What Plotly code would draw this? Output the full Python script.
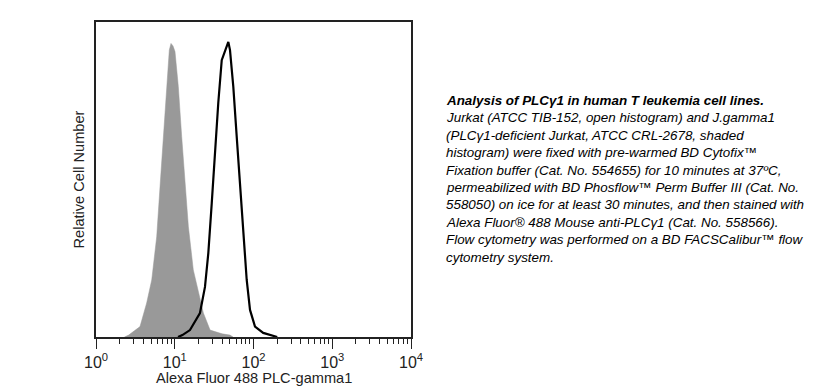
import plotly.graph_objects as go

# Shaded histogram: J.gamma1 (PLCγ1-deficient Jurkat)
jg_intensity = [2.3, 2.6, 3.62, 4.40, 5.10, 5.90, 6.50, 7.16, 8.04, 8.53, 8.96, 9.50, 10.07,
                11.1, 12.25, 13.5, 14.9, 17.2, 19.9, 23.1, 28.1, 40.0, 50.3, 55.0]
jg_count = [0.0, 0.6, 3.3, 10.8, 18.1, 31.8, 47.7, 63.6, 79.5, 91.1, 93.2, 92.4, 90.6,
            79.5, 63.6, 47.7, 35.0, 21.3, 14.0, 7.6, 2.2, 1.0, 0.6, 0.0]

# Open histogram: Jurkat
jk_intensity = [11.0, 12.5, 15.6, 20.9, 24.2, 26.7, 29.5, 32.4, 35.7, 39.5, 43.5, 47.9, 50.3,
                55.4, 61.2, 67.4, 74.2, 82.0, 90.3, 104.5, 133.0, 162.0, 200.0]
jk_count = [0.0, 0.6, 2.2, 7.6, 15.9, 26.7, 42.5, 58.4, 74.3, 87.9, 91.1, 93.7, 91.1,
            79.5, 63.6, 47.7, 31.8, 18.1, 8.6, 3.3, 1.3, 0.6, 0.0]

major_vals = [1, 10, 100, 1000, 10000]
major_text = ["10<sup>0</sup>", "10<sup>1</sup>", "10<sup>2</sup>", "10<sup>3</sup>", "10<sup>4</sup>"]
minor_vals = [m * 10 ** d for d in range(4) for m in range(2, 10)]

x_title = "Alexa Fluor 488 PLC-gamma1"
y_title = "Relative Cell Number"

caption_lines = [
    "<b>Analysis of PLCγ1 in human T leukemia cell lines.</b>",
    "Jurkat (ATCC TIB-152, open histogram) and J.gamma1",
    "(PLCγ1-deficient Jurkat, ATCC CRL-2678, shaded",
    "histogram) were fixed with pre-warmed BD Cytofix™",
    "Fixation buffer (Cat. No. 554655) for 10 minutes at 37ºC,",
    "permeabilized with BD Phosflow™ Perm Buffer III (Cat. No.",
    "558050) on ice for at least 30 minutes, and then stained with",
    "Alexa Fluor® 488 Mouse anti-PLCγ1 (Cat. No. 558566).",
    "Flow cytometry was performed on a BD FACSCalibur™ flow",
    "cytometry system.",
]

FONT = "Liberation Sans, Arial, sans-serif"

fig = go.Figure()
fig.add_trace(go.Scatter(x=jg_intensity, y=jg_count, mode="lines", fill="tozeroy",
                         fillcolor="#999999", line=dict(color="#999999", width=0.5),
                         hoverinfo="skip", showlegend=False))
fig.add_trace(go.Scatter(x=jk_intensity, y=jk_count, mode="lines",
                         line=dict(color="#000000", width=2.2),
                         hoverinfo="skip", showlegend=False))

# page body has an 8px margin; positions below are screen pixels minus that offset
OFF = 8
L, R, T, B = 96 - OFF, 411 - OFF, 22 - OFF, 337 - OFF
W, H = 825 - OFF, 389 - OFF
pw, ph = R - L, B - T

fig.update_layout(
    width=W, height=H,
    margin=dict(l=L, r=W - R, t=T, b=H - B, autoexpand=False),
    paper_bgcolor="white", plot_bgcolor="white",
    font=dict(family=FONT, color="#222222", size=14),
    showlegend=False,
)
fig.update_xaxes(
    type="log", range=[0, 4], automargin=False,
    tickmode="array", tickvals=major_vals, ticktext=major_text,
    ticks="outside", ticklen=10, tickwidth=1.2, tickcolor="#222222",
    minor=dict(tickmode="array", tickvals=minor_vals, ticks="outside", ticklen=5,
               tickwidth=1, tickcolor="#222222", showgrid=False),
    showgrid=False, zeroline=False,
    showline=True, linecolor="#222222", linewidth=1.6, mirror=True,
    tickfont=dict(size=16, color="#222222"),
)
fig.update_yaxes(
    range=[0, 100], showticklabels=False, ticks="", automargin=False,
    showgrid=False, zeroline=False,
    showline=True, linecolor="#222222", linewidth=1.6, mirror=True,
)

# axis titles
fig.add_annotation(xref="paper", yref="paper", x=0.5, y=(B - (378 - OFF)) / ph,
                   xanchor="center", yanchor="middle", text=x_title, showarrow=False,
                   font=dict(family=FONT, size=14.6, color="#222222"))
fig.add_annotation(xref="paper", yref="paper", x=((78 - OFF) - L) / pw, y=0.5,
                   xanchor="center", yanchor="middle", text=y_title, showarrow=False,
                   textangle=-90, font=dict(family=FONT, size=14.6, color="#222222"))

y0 = 100.5 - OFF
dy = 17.4
for i, line in enumerate(caption_lines):
    py = y0 + i * dy
    fig.add_annotation(
        xref="paper", yref="paper",
        x=((444 - OFF) - L) / pw, y=(B - py) / ph,
        xanchor="left", yanchor="middle",
        text="<i>" + line + "</i>", showarrow=False,
        font=dict(family=FONT, size=13.4, color="#000000"),
        align="left",
    )

fig.write_html("out.html")
